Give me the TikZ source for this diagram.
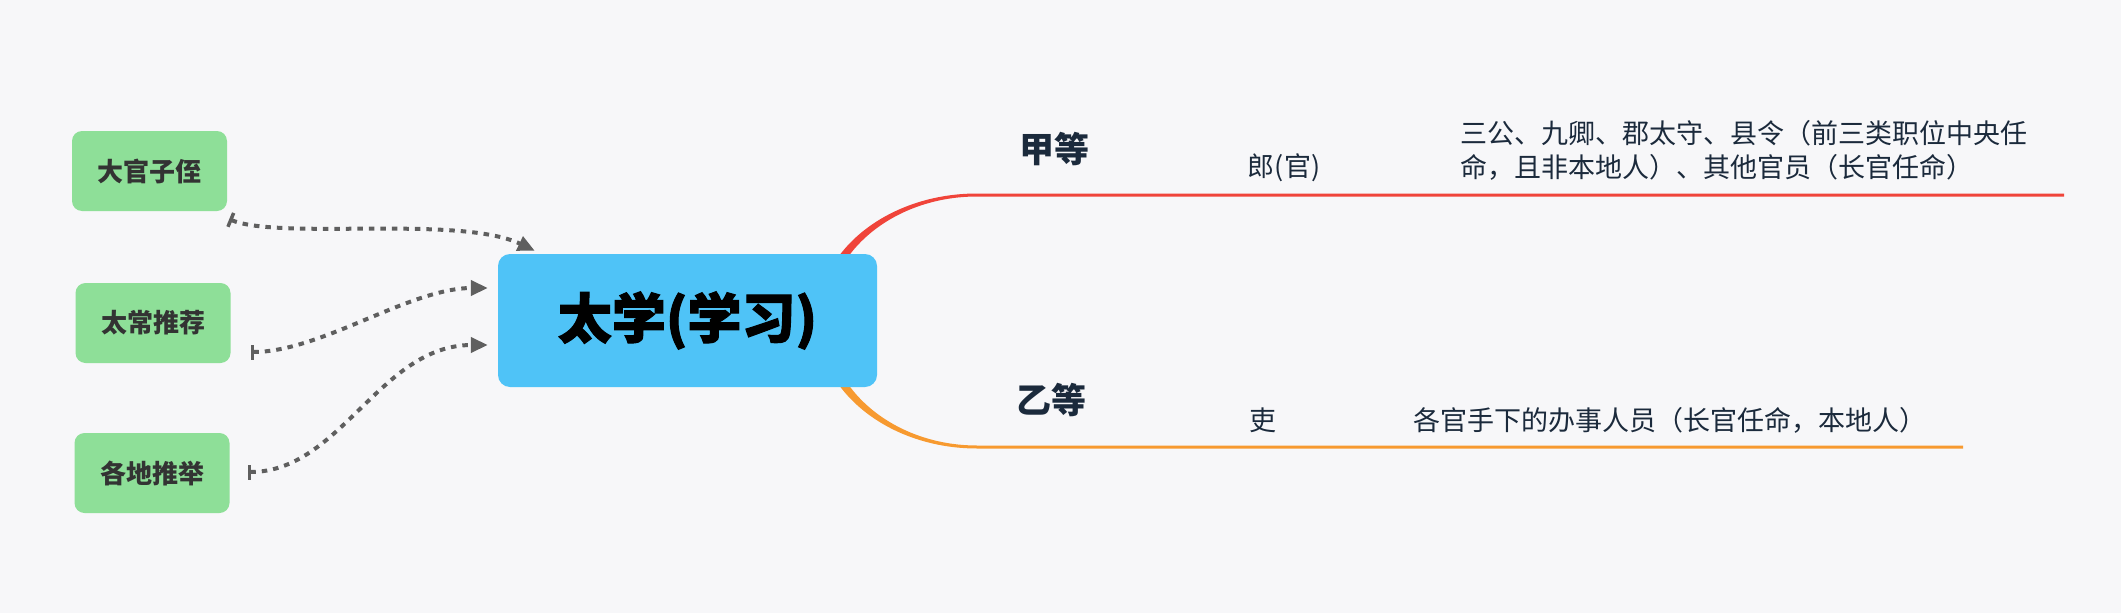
\documentclass[tikz,border=0pt]{standalone}
\usepackage{fontspec}
\newfontfamily\cjk{Noto Sans CJK SC}
\font\cjkheavyfont="Noto Sans CJK SC/B:embolden=2" at 54pt
\usetikzlibrary{arrows.meta}
\definecolor{bg}{HTML}{F7F7F9}
\definecolor{cblue}{HTML}{4FC3F7}
\definecolor{cgreen}{HTML}{8EDF98}
\definecolor{cred}{HTML}{F0443A}
\definecolor{corange}{HTML}{F79A30}
\definecolor{navy}{HTML}{1B2A3C}
\definecolor{dgray}{HTML}{5F5F5F}
\begin{document}
\begin{tikzpicture}[x=1pt,y=-1pt,
  leaf/.style={fill=cgreen, rounded corners=10pt, minimum width=155pt, minimum height=80pt, inner sep=0pt, text=black!80, font=\cjk\bfseries\fontsize{26}{30}\selectfont},
  mainbox/.style={fill=cblue, rounded corners=12pt, minimum width=379pt, minimum height=133pt, inner sep=0pt, text=black, font=\cjkheavyfont},
  grade/.style={inner sep=0pt, text=navy, font=\cjk\bfseries\fontsize{35}{40}\selectfont},
  desc/.style={inner sep=0pt, text=navy, font=\cjk\fontsize{27}{34}\selectfont},
  link/.style={draw=dgray, line width=4pt, dash pattern=on 5.5pt off 6pt, {Bar[width=15pt,line width=3.5pt]}-{Triangle[length=17pt,width=15pt]}}
]
\fill[bg] (0,0) rectangle (2121,613);
\useasboundingbox (0,0) rectangle (2121,613);

% branches
\fill[cred] (817,320) .. controls (817,250.1) and (888.6,193.5) .. (977,193.5) -- (2064,193.5) -- (2064,196.5) -- (977,196.5) .. controls (894.2,196.5) and (827,251.8) .. (827,320) -- cycle;
\fill[corange] (817,320) .. controls (817,391) and (888.6,448.5) .. (977,448.5) -- (1963,448.5) -- (1963,445.5) -- (977,445.5) .. controls (894.2,445.5) and (827,389.3) .. (827,320) -- cycle;

\node[mainbox] (m) at (687.5,320.5) {太学(学习)};

\node[leaf] (a) at (149.5,171) {大官子侄};
\node[leaf] (b) at (153,323) {太常推荐};
\node[leaf] (c) at (152,473) {各地推举};

\draw[link] ([shift={(2,8)}]a.south east) .. controls +(51,21) and +(-75,-36) .. ([shift={(37,-3)}]m.north west);
\draw[link] ([shift={(20,29)}]b.east) .. controls +(70,0) and +(-78,0) .. ([shift={(-10,-32.5)}]m.west);
\draw[link] ([shift={(18,-1)}]c.east) .. controls +(93,0) and +(-108,0) .. ([shift={(-10,24.5)}]m.west);

\node[grade] (jia) at (1054,149) {甲等};
\node[grade] (yi) at (1051,400) {乙等};
\node[desc] (lang) at (1284,168) {郎(官)};
\node[desc, anchor=west, align=left] (jiad) at (1460,150) {三公、九卿、郡太守、县令（前三类职位中央任\\命，且非本地人）、其他官员（长官任命）};
\node[desc] (li) at (1263,420) {吏};
\node[desc, anchor=west] (lid) at (1413,420) {各官手下的办事人员（长官任命，本地人）};
\end{tikzpicture}
\end{document}
